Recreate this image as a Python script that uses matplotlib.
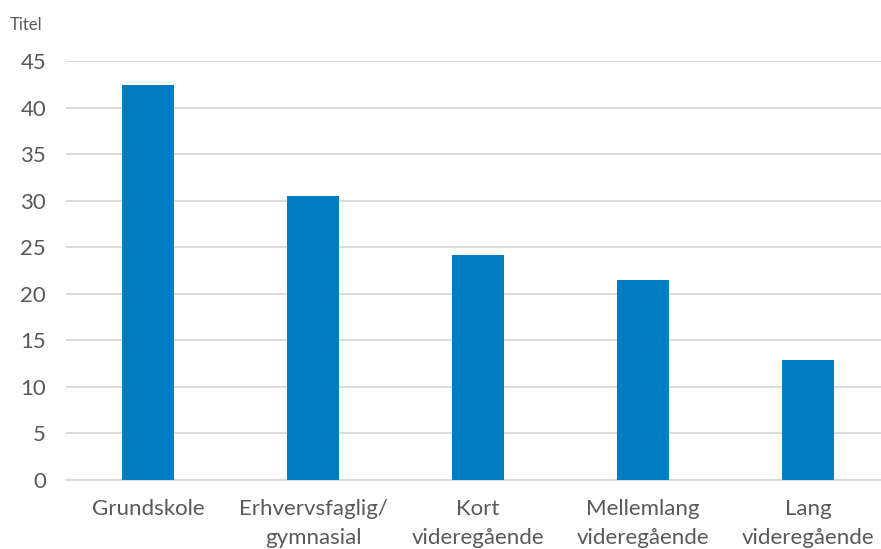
import matplotlib.pyplot as plt

# Kategorier og værdier
kategorier = ['Grundskole', 'Erhvervsfaglig/\ngymnasial', 'Kort\nvideregående',
              'Mellemlang\nvideregående', 'Lang\nvideregående']
vaerdier = [42.4, 30.5, 24.2, 21.5, 12.9]
yticks = [0, 5, 10, 15, 20, 25, 30, 35, 40, 45]

plt.rcParams['font.family'] = ['Lato', 'DejaVu Sans']
tekst = '#595959'

fig = plt.figure(figsize=(8.81, 5.49), dpi=100)
ax = fig.add_axes([65.5 / 881, 69 / 549, 825 / 881, 419 / 549])

ax.bar(range(len(vaerdier)), vaerdier, width=0.315, color='#007CC3', zorder=3)
ax.set_xlim(-0.5, len(vaerdier) - 0.5)
ax.set_ylim(0, 45)
ax.set_yticks(yticks)
ax.grid(axis='y', color='#d9d9d9', linewidth=1.3, zorder=0)

ax.set_xticks(range(len(kategorier)))
ax.set_xticklabels(kategorier, fontsize=16, color=tekst, linespacing=1.55)
ax.tick_params(axis='y', labelsize=16, labelcolor=tekst, length=0, pad=14)
ax.tick_params(axis='x', length=0, pad=14)
for s in ['top', 'right', 'left']:
    ax.spines[s].set_visible(False)
ax.spines['bottom'].set_color('#d9d9d9')
ax.spines['bottom'].set_linewidth(1.3)

fig.text(10 / 881, 1 - 25 / 549, 'Titel', fontsize=12, color=tekst, va='center')

fig.savefig('out.png', dpi=100)
